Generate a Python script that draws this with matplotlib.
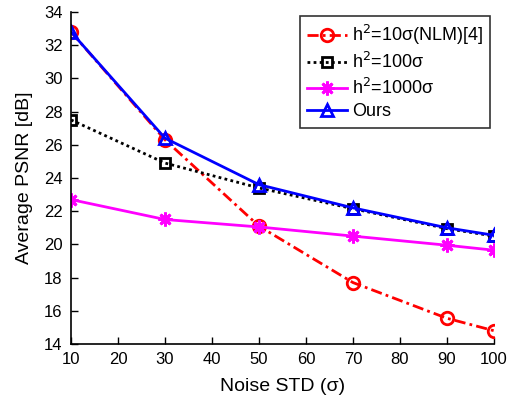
import matplotlib
matplotlib.use("Agg")
import matplotlib.pyplot as plt

plt.rcParams['font.family'] = ['Liberation Sans', 'DejaVu Sans']

x = [10, 30, 50, 70, 90, 100]
nlm = [32.8, 26.3, 21.1, 17.7, 15.55, 14.8]
h100 = [27.5, 24.9, 23.4, 22.15, 20.95, 20.5]
h1000 = [22.7, 21.5, 21.05, 20.5, 19.95, 19.65]
ours = [32.8, 26.4, 23.6, 22.2, 21.0, 20.55]

labels = [r'h$^2$=10σ(NLM)[4]', r'h$^2$=100σ', r'h$^2$=1000σ', 'Ours']
xticks = [10, 20, 30, 40, 50, 60, 70, 80, 90, 100]
yticks = [14, 16, 18, 20, 22, 24, 26, 28, 30, 32, 34]

fig = plt.figure(figsize=(5.09, 4.05), dpi=100)
ax = fig.add_axes([0.1395, 0.1506, 0.831, 0.8198])

ax.plot(x, nlm, color='red', linestyle=(0, (4, 1.5, 1, 1.5)), linewidth=2,
        marker='o', markersize=9, markerfacecolor='none', markeredgewidth=2, label=labels[0])
ax.plot(x, h100, color='black', linestyle=(0, (1, 1.2)), linewidth=2,
        marker='s', markersize=7, markerfacecolor='none', markeredgewidth=2, label=labels[1])
ax.plot(x, h1000, color='magenta', linestyle='-', linewidth=2,
        marker=(8, 2, 0), markersize=10, markeredgewidth=2, label=labels[2])
ax.plot(x, ours, color='blue', linestyle='-', linewidth=2,
        marker='^', markersize=9, markerfacecolor='none', markeredgewidth=2, label=labels[3])

ax.set_xlim(10, 100)
ax.set_ylim(14, 34)
ax.set_xticks(xticks)
ax.set_yticks(yticks)
ax.tick_params(direction='in', labelsize=12, length=5, width=1, pad=6)
ax.spines['top'].set_visible(False)
ax.spines['right'].set_visible(False)
for s in ['left', 'bottom']:
    ax.spines[s].set_linewidth(1.2)
ax.set_xlabel('Noise STD (σ)', fontsize=14, labelpad=8)
ax.set_ylabel('Average PSNR [dB]', fontsize=14, labelpad=8)

leg = ax.legend(loc='upper right', fontsize=13, frameon=True, fancybox=False,
                edgecolor='black', handlelength=2.2, borderpad=0.4,
                labelspacing=0.3, handletextpad=0.3, borderaxespad=0.2)
leg.get_frame().set_linewidth(1.2)

fig.savefig('out.png', dpi=100)
